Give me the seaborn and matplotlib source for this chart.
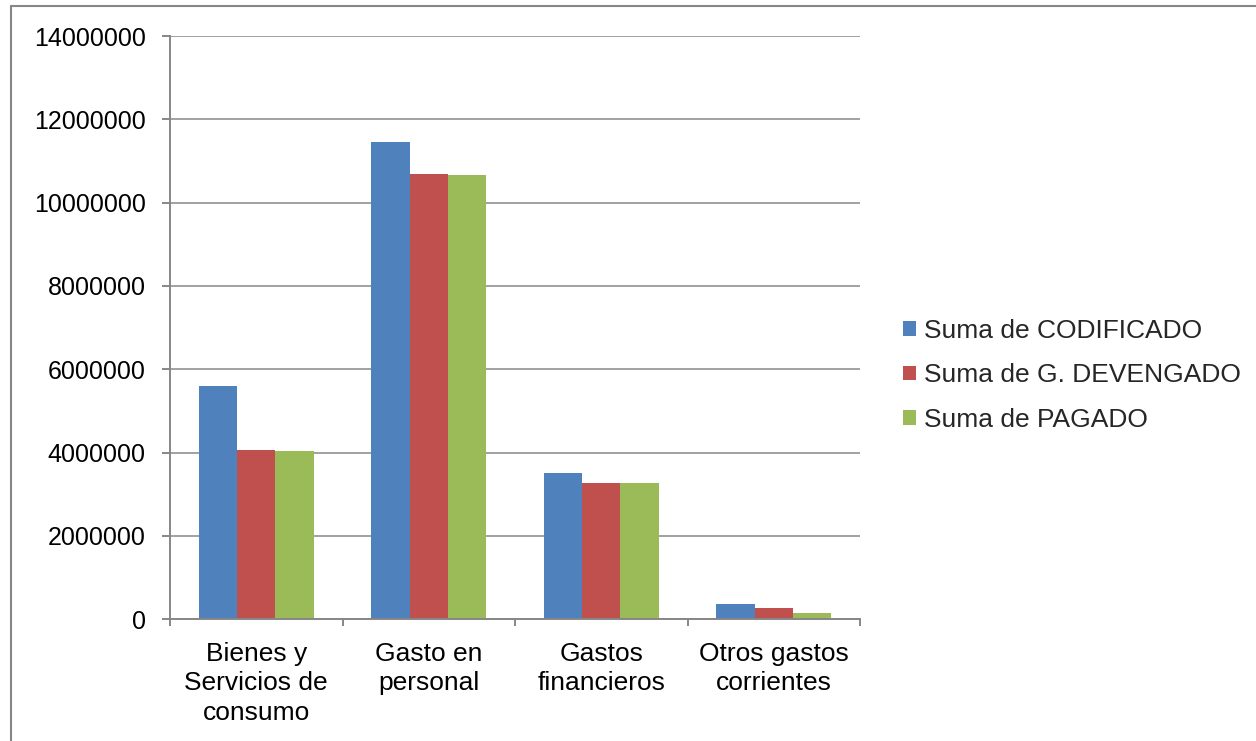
import matplotlib
matplotlib.use("Agg")
import matplotlib.pyplot as plt
from matplotlib.ticker import FuncFormatter, FixedLocator
from matplotlib.lines import Line2D
import seaborn as sns
import pandas as pd

categorias = ["Bienes y\nServicios de\nconsumo", "Gasto en\npersonal",
              "Gastos\nfinancieros", "Otros gastos\ncorrientes"]
series = ["Suma de CODIFICADO", "Suma de G. DEVENGADO", "Suma de PAGADO"]
codificado = [5610000, 11450000, 3510000, 377000]
devengado = [4075000, 10680000, 3270000, 264000]
pagado = [4030000, 10670000, 3260000, 144000]
colores = ["#4F81BD", "#C0504D", "#9BBB59"]

rows = []
for serie, vals in zip(series, [codificado, devengado, pagado]):
    for cat, v in zip(categorias, vals):
        rows.append({"categoria": cat, "valor": v, "serie": serie})
df = pd.DataFrame(rows)

sns.set_theme(style="white")
plt.rcParams["font.family"] = ["Liberation Sans", "DejaVu Sans"]
FS_Y = 18
FS_X = 19
FS_L = 19
GREY = "#878787"

fig = plt.figure(figsize=(12.56, 7.41), dpi=100)
W, H = 1256, 741
ax = fig.add_axes([170 / W, 1 - 619.3 / H, 690 / W, (619.3 - 36) / H])

sns.barplot(data=df, x="categoria", y="valor", hue="serie", order=categorias,
            hue_order=series, palette=colores, saturation=1, width=2 / 3,
            gap=0, linewidth=0, errorbar=None, ax=ax)

ax.set_xlim(-0.5, len(categorias) - 0.5)
ax.set_ylim(0, 14000000)
ax.set_yticks(range(0, 14000001, 2000000))
ax.yaxis.set_major_formatter(FuncFormatter(lambda v, p: f"{int(v)}"))
ax.set_xlabel("")
ax.set_ylabel("")

ax.grid(axis="y", color=GREY, linewidth=1.1)
ax.set_axisbelow(True)
for s in ["top", "right"]:
    ax.spines[s].set_visible(False)
for s in ["left", "bottom"]:
    ax.spines[s].set_color(GREY)
    ax.spines[s].set_linewidth(1.4)

ax.tick_params(axis="y", which="major", direction="out", length=6, width=1.4,
               color=GREY, labelsize=FS_Y, pad=11.5, left=True, labelcolor="black")
ax.tick_params(axis="x", which="major", length=0, labelsize=FS_X, pad=16,
               labelcolor="black")
ax.xaxis.set_minor_locator(FixedLocator([i - 0.5 for i in range(len(categorias) + 1)]))
ax.tick_params(axis="x", which="minor", direction="out", length=5, width=1.4,
               color=GREY, bottom=True)
for lbl in ax.get_xticklabels():
    lbl.set_horizontalalignment("center")
    lbl.set_multialignment("center")
    lbl.set_linespacing(1.3)

leg = ax.get_legend()
handles = leg.legend_handles
leg.remove()
fig.legend(handles, series, loc="center left",
           bbox_to_anchor=(903 / W, 1 - 375.5 / H), frameon=False,
           fontsize=FS_L, handlelength=0.48, handleheight=0.48,
           handletextpad=0.33, labelspacing=0.78, borderpad=0,
           borderaxespad=0)

fig.add_artist(Line2D([11 / W, 1], [1 - 5.5 / H, 1 - 5.5 / H],
                      transform=fig.transFigure, color=GREY, linewidth=1.5))
fig.add_artist(Line2D([11 / W, 11 / W], [0, 1 - 5.5 / H],
                      transform=fig.transFigure, color=GREY, linewidth=1.5))

fig.savefig("out.png", dpi=100, facecolor="white")
